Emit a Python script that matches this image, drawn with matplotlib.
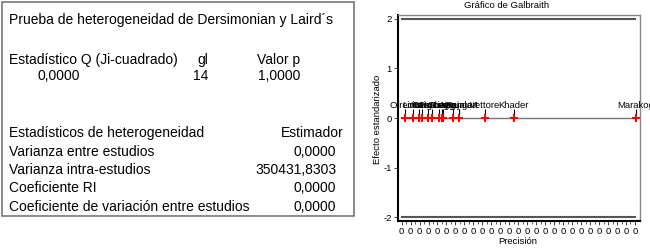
import matplotlib
matplotlib.use("Agg")
import matplotlib.pyplot as plt
import numpy as np

plt.rcParams['font.family'] = ['Liberation Sans', 'DejaVu Sans']

# ---- data ----
studies = ["Ofrecio", "Lima", "Bai", "Kang", "Hsu", "Garcia", "Song", "Lee",
           "Zhang", "Aygun", "Rajala", "Kenngott", "Vettore", "Khader", "Marakog"]
precision = [0.000033, 0.000123, 0.00019, 0.000223, 0.00029, 0.000335, 0.000413,
             0.000446, 0.00046, 0.000569, 0.000636, 0.00064, 0.000926, 0.00125, 0.00261]
std_effect = [0.0] * 15
xticks = [i * 0.0001 for i in range(27)]
yticks = [-2, -1, 0, 1, 2]

table_rows = [
    ("Prueba de heterogeneidad de Dersimonian y Laird´s", 9, 20, 'left'),
    ("Estadístico Q (Ji-cuadrado)", 9, 60, 'left'),
    ("gl", 197, 60, 'left'),
    ("Valor p", 257, 60, 'left'),
    ("0,0000", 37, 76, 'left'),
    ("14", 193, 76, 'left'),
    ("1,0000", 258, 76, 'left'),
    ("Estadísticos de heterogeneidad", 9, 133, 'left'),
    ("Estimador", 344, 133, 'right'),
    ("Varianza entre estudios", 9, 152, 'left'),
    ("0,0000", 336, 152, 'right'),
    ("Varianza intra-estudios", 9, 170, 'left'),
    ("350431,8303", 337, 170, 'right'),
    ("Coeficiente RI", 9, 188, 'left'),
    ("0,0000", 336, 188, 'right'),
    ("Coeficiente de variación entre estudios", 9, 207, 'left'),
    ("0,0000", 336, 207, 'right'),
]

W, H = 650, 248
fig = plt.figure(figsize=(6.5, 2.48), dpi=100)

def fx(x):
    return x / W

def fy(y):
    return 1 - y / H

# left table box
box = plt.Rectangle((fx(1.5), fy(216)), fx(352), 214 / H, transform=fig.transFigure,
                    fill=False, edgecolor='#777777', linewidth=1.2)
fig.add_artist(box)
for txt, x, y, ha in table_rows:
    fig.text(fx(x), fy(y), txt, ha=ha, va='center', fontsize=10, color='black')

# Galbraith plot
ax = fig.add_axes([fx(398), fy(221), fx(640 - 398), (221 - 15) / H])
x0 = -0.00004
ax.set_xlim(x0, 0.002656)
ax.set_ylim(-2.08, 2.08)

ax.plot([0, 0.0026], [2, 2], color='#555555', lw=1.5)
ax.plot([0, 0.0026], [-2, -2], color='#555555', lw=1.5)
ax.plot([0, max(precision)], [0, 0], color='#777777', lw=1)
ax.vlines(precision, 0.05, 0.19, color='black', lw=0.8)
ax.plot(precision, std_effect, linestyle='none', marker='P', color='red', ms=5.5,
        markeredgewidth=0)
for name, px, py in zip(studies, precision, std_effect):
    ax.text(px, py + 0.25, name, ha='center', va='center', fontsize=6.8, clip_on=False)

ax.set_xticks(xticks)
ax.set_xticklabels(["0" for _ in xticks], fontsize=6.8)
ax.set_xticks([t + 0.00005 for t in xticks[:-1]], minor=True)
ax.set_yticks(yticks)
ax.set_yticklabels([str(v) for v in yticks], fontsize=6.8)
ax.tick_params(axis='both', which='major', length=3, width=0.7, pad=1.5, colors='#444444',
               labelcolor='black')
ax.tick_params(axis='x', which='minor', length=2, width=0.6, colors='#444444')

for s in ['left', 'bottom']:
    ax.spines[s].set_color('black')
    ax.spines[s].set_linewidth(1.5)
for s in ['top', 'right']:
    ax.spines[s].set_color('#888888')
    ax.spines[s].set_linewidth(1.0)

fig.text(fx(507), fy(6), "Gráfico de Galbraith", ha='center', va='center', fontsize=6.8)
fig.text(fx(377), fy(119), "Efecto estandarizado", ha='center', va='center',
         fontsize=6.8, rotation=90)
fig.text(fx(518), fy(241), "Precisión", ha='center', va='center', fontsize=6.8)

fig.savefig("out.png", dpi=100)
